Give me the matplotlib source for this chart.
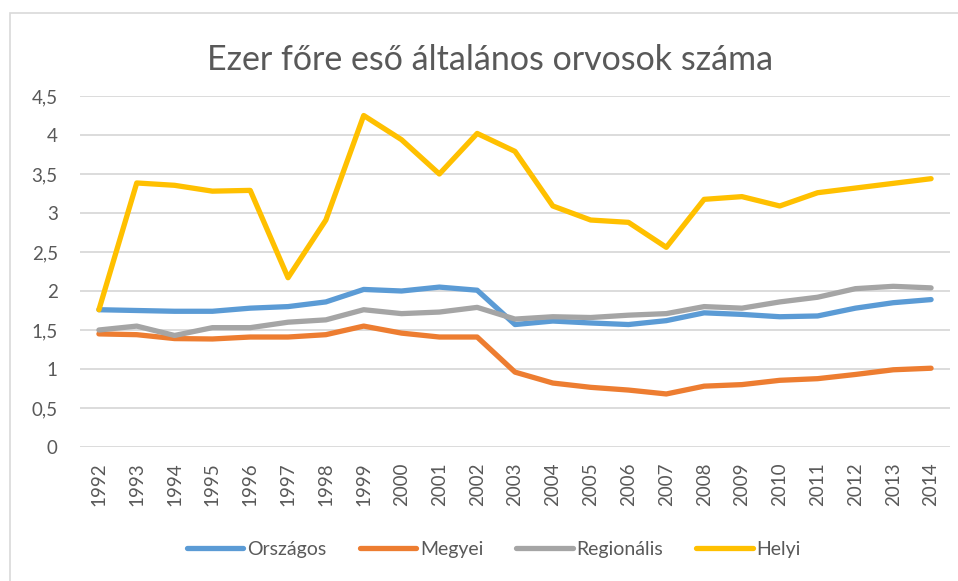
import matplotlib.pyplot as plt
from matplotlib.patches import Rectangle
import numpy as np

plt.rcParams['font.family'] = ['Lato', 'DejaVu Sans']

years = [str(y) for y in range(1992, 2015)]

orszagos = [1.76, 1.75, 1.74, 1.74, 1.78, 1.80, 1.86, 2.02, 2.00, 2.05, 2.01,
            1.57, 1.615, 1.59, 1.57, 1.62, 1.72, 1.70, 1.67, 1.68, 1.78, 1.85, 1.89]
megyei = [1.45, 1.44, 1.39, 1.385, 1.41, 1.41, 1.44, 1.55, 1.46, 1.41, 1.41,
          0.96, 0.82, 0.765, 0.73, 0.68, 0.78, 0.80, 0.855, 0.876, 0.93, 0.99, 1.01]
regionalis = [1.50, 1.55, 1.43, 1.53, 1.53, 1.60, 1.63, 1.76, 1.71, 1.73, 1.79,
              1.64, 1.67, 1.66, 1.69, 1.71, 1.80, 1.78, 1.86, 1.92, 2.03, 2.06, 2.04]
helyi = [1.76, 3.385, 3.355, 3.28, 3.29, 2.17, 2.91, 4.25, 3.94, 3.50, 4.02,
         3.79, 3.09, 2.91, 2.88, 2.56, 3.175, 3.21, 3.09, 3.26, 3.32, 3.38, 3.44]

series_names = ['Országos', 'Megyei', 'Regionális', 'Helyi']
series_colors = ['#5B9BD5', '#ED7D31', '#A5A5A5', '#FFC000']

y_ticks = [0, 0.5, 1, 1.5, 2, 2.5, 3, 3.5, 4, 4.5]
y_labels = ['0', '0,5', '1', '1,5', '2', '2,5', '3', '3,5', '4', '4,5']

text_color = '#595959'
grid_color = '#D9D9D9'

fig = plt.figure(figsize=(9.58, 5.81), dpi=100)
ax = fig.add_axes([80 / 958, 1 - 447 / 581, 870 / 958, 351 / 581])

# chart border (Excel-style)
fig.patches.append(Rectangle((10 / 958, -0.1), 1.0, 1 - 13 / 581 + 0.1,
                             transform=fig.transFigure, fill=False,
                             edgecolor=grid_color, linewidth=1.2))

x = np.arange(len(years))
for vals, name, col in zip([orszagos, megyei, regionalis, helyi], series_names, series_colors):
    ax.plot(x, vals, color=col, linewidth=3.8, label=name,
            solid_joinstyle='round', solid_capstyle='round')

ax.set_xlim(-0.5, len(years) - 0.5)
ax.set_ylim(0, 4.5)
ax.set_yticks(y_ticks)
ax.set_yticklabels(y_labels)
ax.set_xticks(x)
ax.set_xticklabels(years, rotation=90)

ax.grid(axis='y', color=grid_color, linewidth=1.3)
ax.set_axisbelow(True)
for s in ax.spines.values():
    s.set_visible(False)
ax.tick_params(axis='both', length=0, colors=text_color, labelsize=13.5)
ax.tick_params(axis='y', pad=16)
ax.tick_params(axis='x', pad=11)

fig.text(490 / 958, 1 - 60 / 581, 'Ezer főre eső általános orvosok száma',
         ha='center', va='center', fontsize=24.5, color=text_color)

fig.legend(loc='center', bbox_to_anchor=(494 / 958, 1 - 549 / 581), ncol=4,
           frameon=False, fontsize=14, handlelength=2.9, handletextpad=0.2,
           columnspacing=1.7, labelcolor=text_color)

fig.savefig('out.png', dpi=100)
